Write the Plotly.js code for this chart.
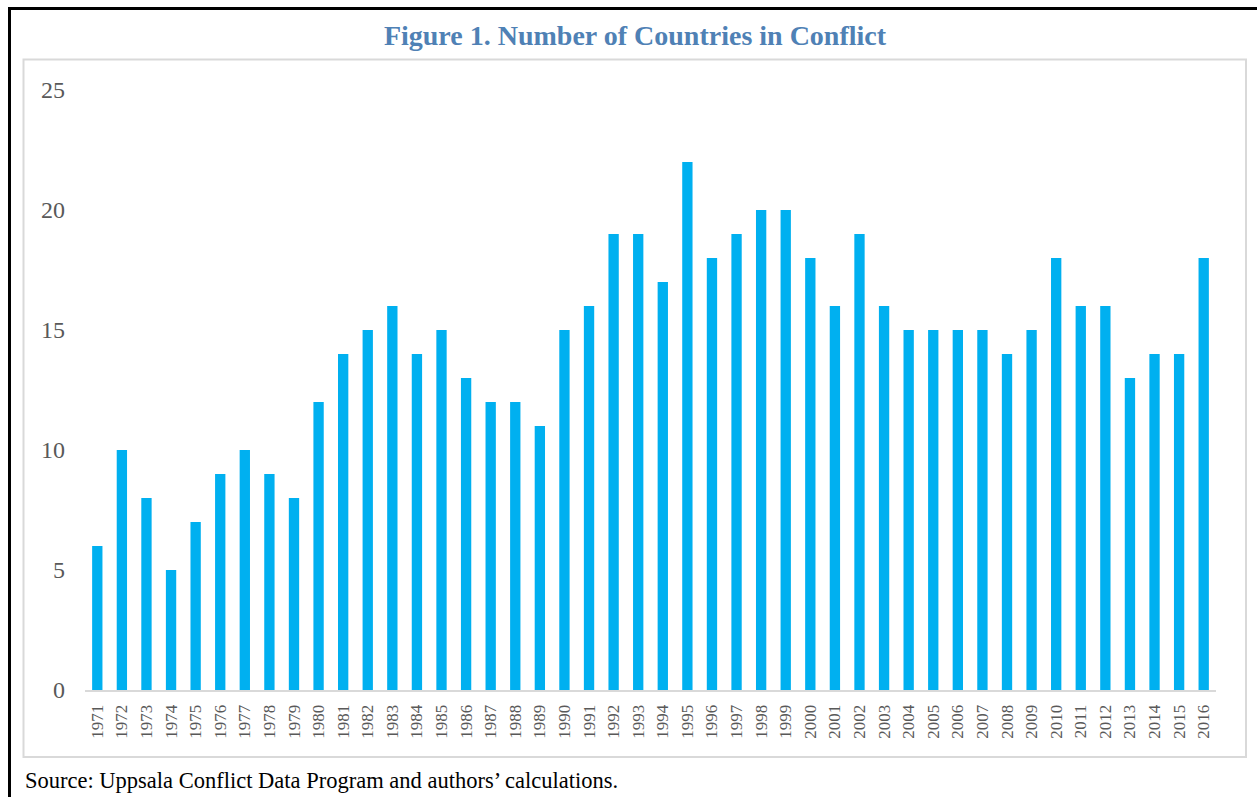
<!DOCTYPE html>
<html>
<head>
<meta charset="utf-8">
<script src="https://cdn.plot.ly/plotly-3.0.1.min.js"></script>
<style>html,body{margin:0;padding:0;background:#fff;}#chart{width:1257px;height:797px;}</style>
</head>
<body>
<div id="chart"></div>
<script>
const years = ["1971","1972","1973","1974","1975","1976","1977","1978","1979","1980","1981","1982","1983","1984","1985","1986","1987","1988","1989","1990","1991","1992","1993","1994","1995","1996","1997","1998","1999","2000","2001","2002","2003","2004","2005","2006","2007","2008","2009","2010","2011","2012","2013","2014","2015","2016"];
const countries = [6,10,8,5,7,9,10,9,8,12,14,15,16,14,15,13,12,12,11,15,16,19,19,17,22,18,19,20,20,18,16,19,16,15,15,15,15,14,15,18,16,16,13,14,14,18];
const yTicks = [0,5,10,15,20,25];

const W = 1257, H = 797;
const L = 85, R = 41, T = 90, B = 107;
const pw = W - L - R, ph = H - T - B;
const px = x => (x - L) / pw;
const py = y => (H - B - y) / ph;

const trace = {
  type: 'bar',
  x: years,
  y: countries,
  marker: {color: '#00B0F0'},
  width: 0.42,
  hoverinfo: 'x+y'
};

const layout = {
  width: W, height: H,
  margin: {l: L, r: R, t: T, b: B},
  paper_bgcolor: '#ffffff',
  plot_bgcolor: '#ffffff',
  showlegend: false,
  font: {family: '"Liberation Serif", "Times New Roman", serif', color: '#595959'},
  title: {
    text: '<b>Figure 1. Number of Countries in Conflict</b>',
    font: {family: '"Liberation Serif", "Times New Roman", serif', size: 28, color: '#4F81B5'},
    x: 635 / W, xref: 'container', xanchor: 'center',
    y: 1 - 35 / H, yref: 'container', yanchor: 'middle'
  },
  xaxis: {
    type: 'category',
    range: [-0.5, years.length - 0.5],
    showgrid: false, zeroline: false,
    showline: true, linecolor: '#D9D9D9', linewidth: 2,
    ticks: '', tickangle: -90,
    tickfont: {size: 17, color: '#595959'},
    ticklabelstandoff: 6,
    fixedrange: true
  },
  yaxis: {
    range: [0, 25],
    tickvals: yTicks,
    ticktext: yTicks.map(String),
    showgrid: false, zeroline: false, showline: false,
    ticks: '',
    tickfont: {size: 24, color: '#595959'},
    ticklabelstandoff: 19,
    fixedrange: true
  },
  shapes: [
    {type: 'rect', xref: 'paper', yref: 'paper',
     x0: px(23.5), x1: px(1246), y0: py(757), y1: py(59.5),
     line: {color: '#D9D9D9', width: 2}, fillcolor: 'rgba(0,0,0,0)', layer: 'below'},
    {type: 'line', xref: 'paper', yref: 'paper',
     x0: px(9.5), x1: px(9.5), y0: py(8.5), y1: py(805),
     line: {color: '#000000', width: 3}},
    {type: 'line', xref: 'paper', yref: 'paper',
     x0: px(8), x1: px(1265), y0: py(8.5), y1: py(8.5),
     line: {color: '#000000', width: 3}}
  ],
  annotations: [
    {text: 'Source: Uppsala Conflict Data Program and authors’ calculations.',
     xref: 'paper', yref: 'paper', x: px(23), y: py(795),
     xanchor: 'left', yanchor: 'bottom', showarrow: false,
     font: {family: '"Liberation Serif", "Times New Roman", serif', size: 22.5, color: '#000000'}}
  ]
};

Plotly.newPlot('chart', [trace], layout, {displayModeBar: false});
</script>
</body>
</html>
